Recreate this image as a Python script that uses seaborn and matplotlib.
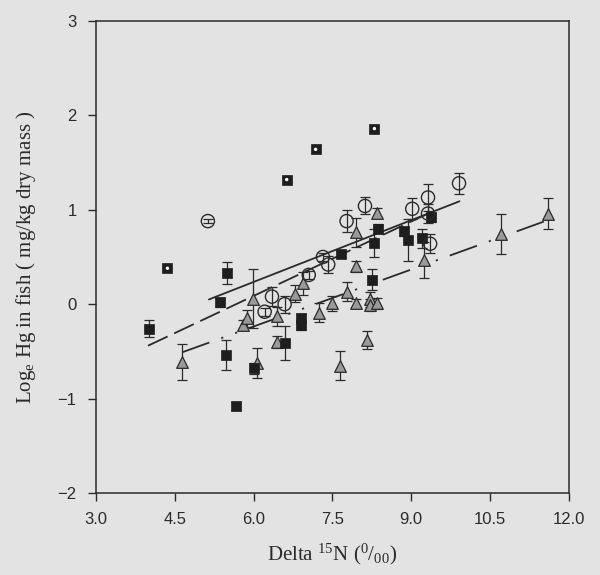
import numpy as np
import pandas as pd
import matplotlib
matplotlib.use("Agg")
import matplotlib.pyplot as plt
import seaborn as sns

# circles (open)
circ_x = [5.13, 6.21, 6.35, 6.59, 7.05, 7.32, 7.42, 7.77, 8.12, 9.02, 9.32, 9.32, 9.36, 9.91]
circ_y = [0.88, -0.08, 0.08, 0.00, 0.31, 0.50, 0.42, 0.88, 1.04, 1.01, 1.13, 0.96, 0.64, 1.28]
circ_e = [0.02, 0.04, 0.10, 0.09, 0.04, 0.04, 0.09, 0.12, 0.09, 0.11, 0.14, 0.10, 0.10, 0.11]

# filled squares
sq_x = [4.01, 5.36, 5.50, 5.47, 5.66, 6.00, 6.59, 6.91, 6.91, 7.67, 8.25, 8.30, 8.37, 8.87, 8.94, 9.20, 9.38]
sq_y = [-0.26, 0.02, 0.33, -0.54, -1.08, -0.68, -0.41, -0.15, -0.22, 0.53, 0.26, 0.65, 0.80, 0.77, 0.68, 0.70, 0.92]
sq_e = [0.09, 0.05, 0.12, 0.16, 0.04, 0.06, 0.18, 0.05, 0.05, 0.03, 0.11, 0.15, 0.05, 0.05, 0.22, 0.10, 0.05]

# grey triangles
tri_x = [4.64, 5.79, 5.88, 5.98, 6.07, 6.44, 6.44, 6.78, 6.94, 7.24, 7.50, 7.65, 7.77, 7.95,
         7.95, 7.94, 8.16, 8.22, 8.22, 8.34, 8.35, 9.24, 10.71, 11.61]
tri_y = [-0.61, -0.22, -0.15, 0.06, -0.62, -0.13, -0.40, 0.11, 0.22, -0.09, 0.01, -0.65, 0.13, 0.76,
         0.40, 0.01, -0.38, 0.05, -0.01, 0.97, 0.01, 0.47, 0.74, 0.96]
tri_e = [0.19, 0.05, 0.09, 0.31, 0.16, 0.10, 0.06, 0.09, 0.12, 0.10, 0.08, 0.15, 0.10, 0.15,
         0.06, 0.05, 0.10, 0.08, 0.06, 0.05, 0.06, 0.19, 0.21, 0.16]

# outliers (square with white dot, no error bars)
out_x = [4.36, 6.63, 7.18, 8.30]
out_y = [0.38, 1.32, 1.64, 1.86]

# fitted lines as printed (end points)
fit_circ_x = [5.15, 9.92]
fit_circ_y = [0.05, 1.09]
fit_sq_x = [3.99, 9.40]
fit_sq_y = [-0.44, 0.98]
fit_tri_x = [4.64, 11.60]
fit_tri_y = [-0.51, 0.89]

xticks = [3.0, 4.5, 6.0, 7.5, 9.0, 10.5, 12.0]
yticks = [-2, -1, 0, 1, 2, 3]

bg = "#e3e3e3"
ink = "#2b2b2b"

sns.set_style("ticks")
plt.rcParams["font.family"] = ["Liberation Sans", "DejaVu Sans"]
plt.rcParams["mathtext.fontset"] = "custom"
plt.rcParams["mathtext.rm"] = "Liberation Serif"
plt.rcParams["mathtext.it"] = "Liberation Serif:italic"

fig = plt.figure(figsize=(6, 5.75), dpi=100, facecolor=bg)
ax = fig.add_axes([0.16, 0.1426, 0.788, 0.821])
ax.set_facecolor(bg)

circ = pd.DataFrame({"x": circ_x, "y": circ_y, "e": circ_e})
sq = pd.DataFrame({"x": sq_x, "y": sq_y, "e": sq_e})
tri = pd.DataFrame({"x": tri_x, "y": tri_y, "e": tri_e})

# regression lines
sns.lineplot(x=fit_circ_x, y=fit_circ_y, ax=ax, color=ink, lw=1.3, linestyle="-")
sns.lineplot(x=fit_sq_x, y=fit_sq_y, ax=ax, color=ink, lw=1.3, linestyle=(0, (12, 4)))
sns.lineplot(x=fit_tri_x, y=fit_tri_y, ax=ax, color=ink, lw=1.3,
             linestyle=(0, (16, 7, 1.2, 7, 1.2, 7)))

# error bars
for d in (tri, sq, circ):
    ax.errorbar(d["x"], d["y"], yerr=d["e"], fmt="none", ecolor=ink, elinewidth=0.9,
                capsize=3.5, capthick=0.9, zorder=3)

sns.scatterplot(data=tri, x="x", y="y", ax=ax, marker="^", s=70, color="#9a9a9a",
                edgecolor=ink, linewidth=0.9, zorder=4)
sns.scatterplot(data=sq, x="x", y="y", ax=ax, marker="s", s=45, color="#1e1e1e",
                edgecolor="#1e1e1e", linewidth=0.5, zorder=5)
sns.scatterplot(data=circ, x="x", y="y", ax=ax, marker="o", s=90, facecolor="none",
                edgecolor=ink, linewidth=1.0, zorder=5)
sns.scatterplot(x=out_x, y=out_y, ax=ax, marker="s", s=45, color="#1e1e1e",
                edgecolor="#1e1e1e", linewidth=0.5, zorder=5)
sns.scatterplot(x=out_x, y=out_y, ax=ax, marker="o", s=6, color="white",
                edgecolor="none", zorder=6)

ax.set_xlim(3, 12)
ax.set_ylim(-2, 3)
ax.set_xticks(xticks)
ax.set_xticklabels([f"{t:.1f}" for t in xticks])
ax.set_yticks(yticks)
ax.tick_params(direction="out", length=6, width=1, colors=ink, labelsize=12, pad=8)
for s in ax.spines.values():
    s.set_color(ink)
    s.set_linewidth(1.1)

ax.set_xlabel(r"Delta $^{15}$N ($^{0}/_{00}$)", family="Liberation Serif", fontsize=15,
              color=ink, labelpad=10)
ax.set_ylabel(r"Log$_{\mathrm{e}}$ Hg in fish ( mg/kg dry mass )", family="Liberation Serif",
              fontsize=15, color=ink, labelpad=14)

fig.savefig("out.png", dpi=100, facecolor=bg)
